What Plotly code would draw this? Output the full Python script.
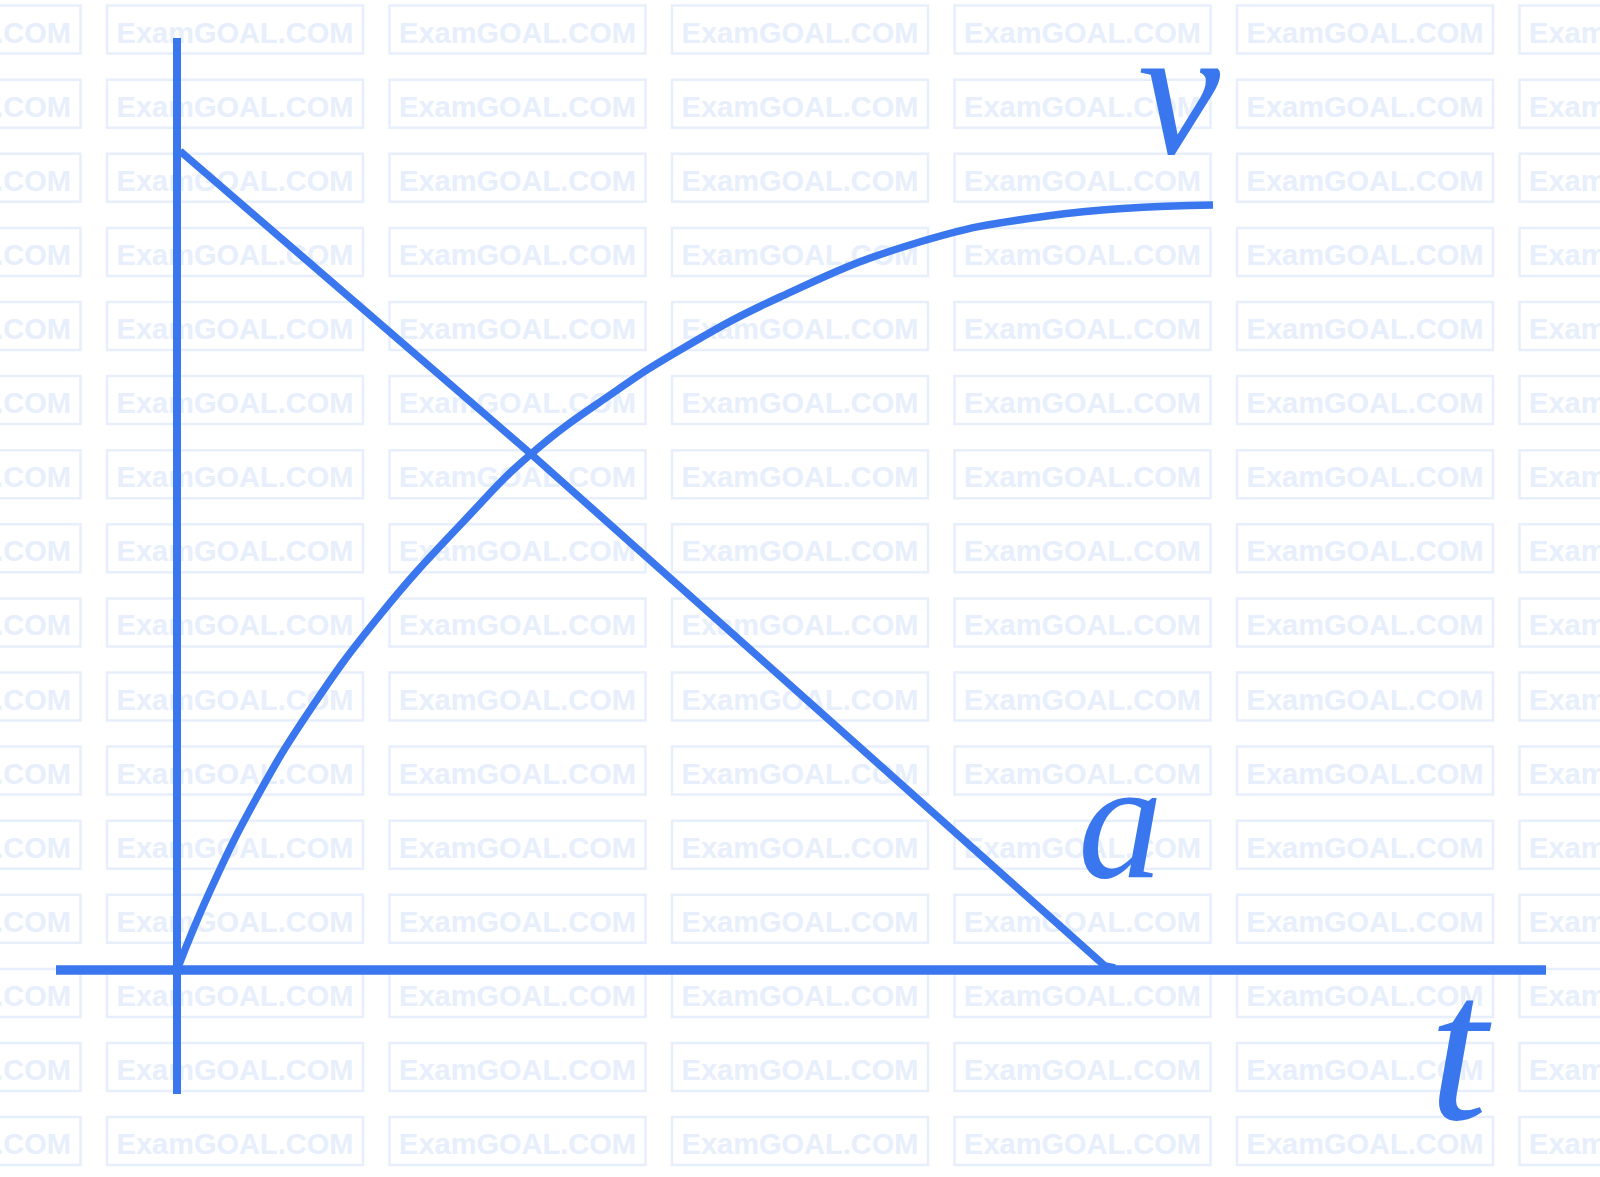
import plotly.graph_objects as go

BLUE = "#3A77EE"
WATERMARK = "#E7EEFC"
W, H = 1600, 1177

# values (t in arbitrary units, origin at the axes crossing)
v_t = [0.0, 0.33, 0.80, 1.33, 2.03, 2.86, 3.54, 4.36, 5.03, 6.03, 7.36, 8.70, 10.36]
v_val = [0.0, 0.79, 1.73, 2.60, 3.55, 4.48, 5.16, 5.77, 6.20, 6.73, 7.26, 7.54, 7.65]

a_t = [0.03, 3.54, 9.28, 9.38]
a_val = [8.19, 5.16, 0.04, 0.02]

t_axis = [-1.21, 13.69]
v_axis = [9.32, -1.24]

labels = ["v", "a", "t"]
label_t = [10.02, 9.43, 12.83]
label_y = [8.80, 1.50, -0.78]

LABEL_SIZES = [185, 170, 210]
X_RANGE = [-1.77, 14.23]
Y_RANGE = [-2.07, 9.70]

fig = go.Figure()

fig.add_trace(go.Scatter(x=t_axis, y=[0, 0], mode="lines",
                         line={"color": BLUE, "width": 9.5}, hoverinfo="skip"))
fig.add_trace(go.Scatter(x=[0, 0], y=v_axis, mode="lines",
                         line={"color": BLUE, "width": 8}, hoverinfo="skip"))
fig.add_trace(go.Scatter(x=a_t, y=a_val, mode="lines", name="a",
                         line={"color": BLUE, "width": 7.5}))
fig.add_trace(go.Scatter(x=v_t, y=v_val, mode="lines", name="v",
                         line={"color": BLUE, "width": 7.5, "shape": "spline",
                               "smoothing": 1.3, "simplify": False}))

for text, x, y, size in zip(labels, label_t, label_y, LABEL_SIZES):
    fig.add_annotation(x=x, y=y, text=f"<i>{text}</i>", showarrow=False,
                       font={"family": "Liberation Serif", "size": size, "color": BLUE})

# background watermark grid
for row in range(16):
    cy = 29.6 + row * 74.1
    for col in range(7):
        left = -175.5 + col * 282.5
        fig.add_shape(
            type="rect", xref="paper", yref="paper", layer="below",
            x0=left / W, x1=(left + 256) / W,
            y0=1 - (cy + 24) / H, y1=1 - (cy - 24) / H,
            line={"color": WATERMARK, "width": 2.5},
            label={"text": "<b>ExamGOAL.COM</b>",
                   "font": {"family": "Liberation Sans", "size": 29, "color": WATERMARK}},
        )

fig.update_layout(
    width=W, height=H,
    margin={"l": 0, "r": 0, "t": 0, "b": 0},
    paper_bgcolor="white", plot_bgcolor="white",
    showlegend=False,
)
fig.update_xaxes(range=X_RANGE, visible=False)
fig.update_yaxes(range=Y_RANGE, visible=False)

fig.write_html("out.html", config={"displayModeBar": False},
               post_script="document.body.style.margin='0';")
